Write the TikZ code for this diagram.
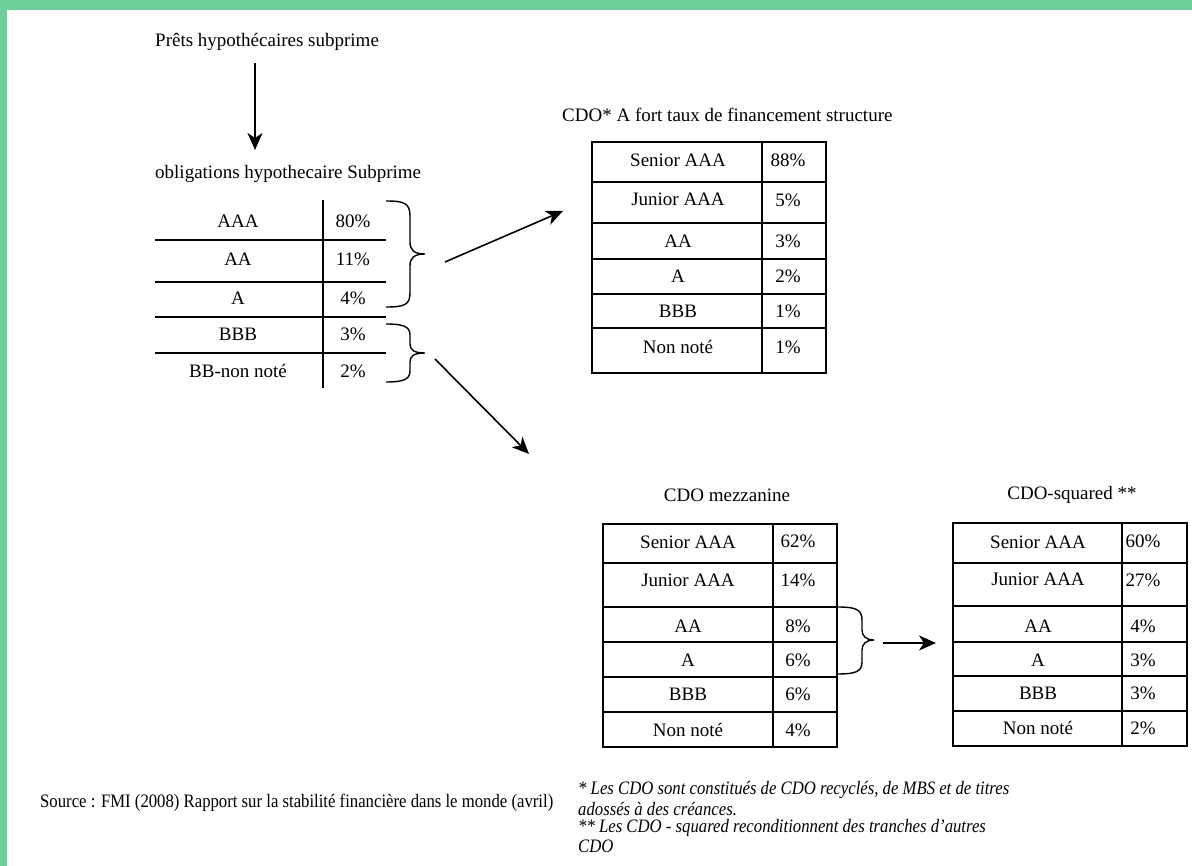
\documentclass[tikz,border=0pt]{standalone}
\usepackage{fontspec}
\setmainfont{Liberation Serif}
\newfontfamily\notefont[FakeStretch=0.88]{Liberation Serif}
\usetikzlibrary{arrows.meta}
\definecolor{greenframe}{RGB}{111,207,155}

\begin{document}
\begin{tikzpicture}[x=1pt, y=-1pt, font=\fontsize{19}{22}\selectfont,
    cell/.style={inner sep=0pt},
    rule/.style={line width=1.4pt},
    curly/.style={line width=1.4pt},
    link/.style={line width=1.6pt, -{Stealth[length=17pt, width=15pt, inset=5pt]}},
    note/.style={anchor=west, inner sep=0pt, font=\notefont\fontsize{19}{22}\selectfont}]
    \useasboundingbox (0,0) rectangle (1192,866);
    \fill[greenframe] (0,0) rectangle (1192,10);
    \fill[greenframe] (0,0) rectangle (7,866);

    % titles
    \node[cell, anchor=west] (loans) at (155,42) {Prêts hypothécaires subprime};
    \node[cell, anchor=west] (bonds) at (155,174) {obligations hypothecaire Subprime};
    \node[cell, anchor=west] (hgtitle) at (562,115) {CDO* A fort taux de financement structure};
    \node[cell] (mztitle) at (727,495) {CDO mezzanine};
    \node[cell] (sqtitle) at (1072,495) {CDO-squared **};

    % subprime bonds
    \draw[rule] (155,240) -- (386,240);
    \draw[rule] (155,282) -- (386,282);
    \draw[rule] (155,317) -- (386,317);
    \draw[rule] (155,353) -- (386,353);
    \draw[rule] (323,200) -- (323,388);
    \node[cell] (b1) at (238,221) {AAA};        \node[cell] (b1p) at (353,221) {80\%};
    \node[cell] (b2) at (238,259) {AA};         \node[cell] (b2p) at (353,259) {11\%};
    \node[cell] (b3) at (238,298) {A};          \node[cell] (b3p) at (353,298) {4\%};
    \node[cell] (b4) at (238,334) {BBB};        \node[cell] (b4p) at (353,334) {3\%};
    \node[cell] (b5) at (238,371) {BB-non noté}; \node[cell] (b5p) at (353,371) {2\%};

    % high grade CDO
    \draw[rule] (592,142) rectangle (826,373);
    \draw[rule] (762,142) -- (762,373);
    \draw[rule] (592,182) -- (826,182);
    \draw[rule] (592,223) -- (826,223);
    \draw[rule] (592,259) -- (826,259);
    \draw[rule] (592,294) -- (826,294);
    \draw[rule] (592,328) -- (826,328);
    \node[cell] (h1) at (678,160) {Senior AAA}; \node[cell] (h1p) at (788,160) {88\%};
    \node[cell] (h2) at (678,199) {Junior AAA}; \node[cell] (h2p) at (788,200) {5\%};
    \node[cell] (h3) at (678,241) {AA};         \node[cell] (h3p) at (788,241) {3\%};
    \node[cell] (h4) at (678,276) {A};          \node[cell] (h4p) at (788,276) {2\%};
    \node[cell] (h5) at (678,311) {BBB};        \node[cell] (h5p) at (788,311) {1\%};
    \node[cell] (h6) at (678,347) {Non noté};   \node[cell] (h6p) at (788,347) {1\%};

    % mezzanine CDO
    \draw[rule] (603,524) rectangle (837,747);
    \draw[rule] (773,524) -- (773,747);
    \draw[rule] (603,563) -- (837,563);
    \draw[rule] (603,607) -- (837,607);
    \draw[rule] (603,642) -- (837,642);
    \draw[rule] (603,677) -- (837,677);
    \draw[rule] (603,712) -- (837,712);
    \node[cell] (m1) at (688,542) {Senior AAA}; \node[cell] (m1p) at (798,541) {62\%};
    \node[cell] (m2) at (688,580) {Junior AAA}; \node[cell] (m2p) at (798,580) {14\%};
    \node[cell] (m3) at (688,626) {AA};         \node[cell] (m3p) at (798,626) {8\%};
    \node[cell] (m4) at (688,660) {A};          \node[cell] (m4p) at (798,660) {6\%};
    \node[cell] (m5) at (688,694) {BBB};        \node[cell] (m5p) at (798,694) {6\%};
    \node[cell] (m6) at (688,730) {Non noté};   \node[cell] (m6p) at (798,730) {4\%};

    % CDO squared
    \draw[rule] (953,523) rectangle (1187,746);
    \draw[rule] (1122,523) -- (1122,746);
    \draw[rule] (953,563) -- (1187,563);
    \draw[rule] (953,606) -- (1187,606);
    \draw[rule] (953,642) -- (1187,642);
    \draw[rule] (953,676) -- (1187,676);
    \draw[rule] (953,711) -- (1187,711);
    \node[cell] (s1) at (1038,542) {Senior AAA}; \node[cell] (s1p) at (1143,541) {60\%};
    \node[cell] (s2) at (1038,579) {Junior AAA}; \node[cell] (s2p) at (1143,580) {27\%};
    \node[cell] (s3) at (1038,626) {AA};         \node[cell] (s3p) at (1143,626) {4\%};
    \node[cell] (s4) at (1038,660) {A};          \node[cell] (s4p) at (1143,660) {3\%};
    \node[cell] (s5) at (1038,693) {BBB};        \node[cell] (s5p) at (1143,693) {3\%};
    \node[cell] (s6) at (1038,728) {Non noté};   \node[cell] (s6p) at (1143,728) {2\%};

    % braces
    \draw[curly] (386,201) .. controls (404,201) and (410,203) .. (410,216) -- (410,242)
        .. controls (410,250) and (414,254) .. (425,254)
        .. controls (414,254) and (410,258) .. (410,266) -- (410,293)
        .. controls (410,305) and (404,307) .. (386,307);
    \draw[curly] (386,324) .. controls (402,324) and (410,326) .. (410,335) -- (410,344)
        .. controls (410,350) and (414,353) .. (425,353)
        .. controls (414,353) and (410,356) .. (410,362) -- (410,371)
        .. controls (410,380) and (402,382) .. (386,382);
    \draw[curly] (837,607) .. controls (855,607) and (862,609) .. (862,620) -- (862,630)
        .. controls (862,636) and (866,640) .. (874,640)
        .. controls (866,640) and (862,644) .. (862,650) -- (862,662)
        .. controls (862,672) and (855,674) .. (837,674);

    % arrows
    \coordinate (loansend) at (255,63);
    \coordinate (bondsend) at (255,150);
    \coordinate (seniorout) at (445,262);
    \coordinate (seniorin) at (563,211);
    \coordinate (mezzout) at (435,359);
    \coordinate (mezzin) at (529,454);
    \coordinate (sqout) at (883,643);
    \coordinate (sqin) at (936,643);
    \draw[link] (loansend) -- (bondsend);
    \draw[link] (seniorout) -- (seniorin);
    \draw[link] (mezzout) -- (mezzin);
    \draw[link] (sqout) -- (sqin);

    % notes
    \node[note] (source) at (40,803) {Source : FMI (2008) Rapport sur la stabilité financière dans le monde (avril)};
    \node[note] (note1) at (578,790) {\itshape * Les CDO sont constitués de CDO recyclés, de MBS et de titres};
    \node[note] (note2) at (578,809) {\itshape adossés à des créances.};
    \node[note] (note3) at (578,828) {\itshape ** Les CDO - squared reconditionnent des tranches d’autres};
    \node[note] (note4) at (578,846) {\itshape CDO};
\end{tikzpicture}
\end{document}
